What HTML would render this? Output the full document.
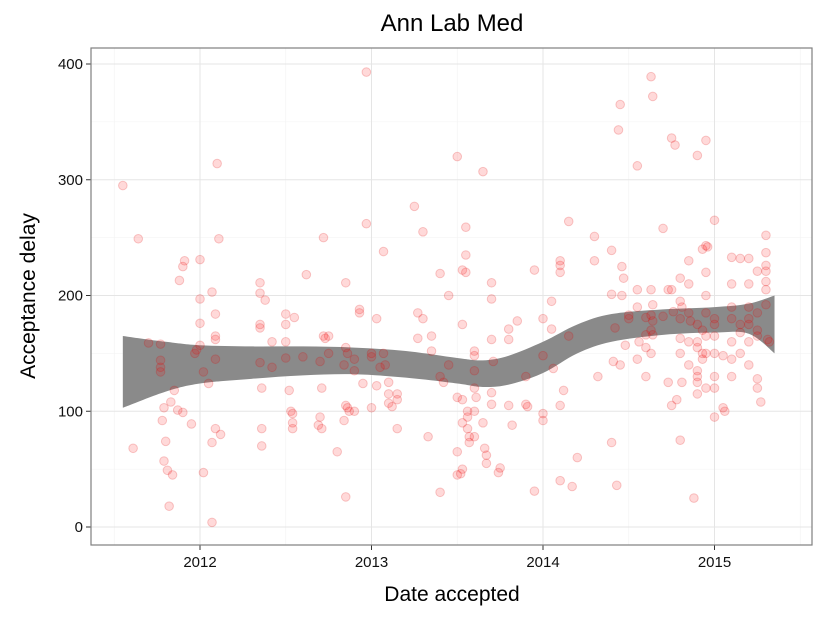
<!DOCTYPE html>
<html><head><meta charset="utf-8"><style>
body{margin:0;background:#fff}
svg{display:block;font-family:"Liberation Sans",sans-serif}
</style></head><body>
<svg id="c" width="825" height="618" xmlns="http://www.w3.org/2000/svg"></svg>
<script>
const xTicks=[2012,2013,2014,2015];
const yTicks=[0,100,200,300,400];
const bandYears=[2011.55,2011.8,2012.0,2012.3,2012.6,2012.9,2013.2,2013.5,2013.65,2013.8,2014.0,2014.2,2014.4,2014.7,2015.0,2015.2,2015.35];
const bandUpper=[165,160,157,156,156,155,152,146,144,148,160,175,184,188,190,193,200];
const bandLower=[103,117,124,128,131,132,129,124,121,123,133,150,160,166,168,167,150];
const dates=[2011.55,2011.64,2011.61,2011.70,2011.77,2011.77,2011.77,2011.77,2011.78,2011.79,2011.80,2011.79,2011.81,2011.82,2011.84,2011.83,2011.85,2011.87,2011.88,2011.90,2011.91,2011.90,2011.95,2011.97,2011.98,2012.0,2012.0,2012.0,2012.0,2012.02,2012.02,2012.05,2012.07,2012.07,2012.09,2012.09,2012.09,2012.09,2012.09,2012.10,2012.11,2012.12,2012.07,
2012.35,2012.35,2012.35,2012.35,2012.35,2012.36,2012.36,2012.36,2012.38,2012.5,2012.5,2012.5,2012.5,2012.52,2012.53,2012.54,2012.54,2012.54,2012.42,2012.42,2012.55,2012.6,2012.62,2012.7,2012.71,2012.7,2012.69,2012.71,2012.72,2012.72,2012.73,2012.75,2012.75,2012.8,2012.85,2012.85,2012.86,2012.84,2012.85,2012.86,2012.87,2012.84,2012.85,2012.9,2012.9,2012.9,2012.93,2012.93,2012.95,2012.97,2012.97,2013.0,2013.0,2013.0,2013.03,2013.03,2013.05,2013.07,2013.07,2013.08,2013.1,2013.1,2013.1,2013.12,2013.15,2013.15,2013.15,
2013.25,2013.27,2013.27,2013.3,2013.3,2013.33,2013.35,2013.35,2013.4,2013.4,2013.4,2013.42,2013.45,2013.45,2013.5,2013.5,2013.5,2013.5,2013.53,2013.53,2013.53,2013.53,2013.53,2013.52,2013.55,2013.55,2013.55,2013.56,2013.56,2013.56,2013.57,2013.57,2013.6,2013.6,2013.6,2013.6,2013.61,2013.6,2013.6,2013.65,2013.65,2013.66,2013.67,2013.67,2013.7,2013.7,2013.7,2013.71,2013.7,2013.7,2013.75,2013.74,2013.8,2013.8,2013.8,2013.82,2013.85,2013.9,2013.9,2013.91,2013.95,2013.95,2014.0,2014.0,2014.0,2014.0,2014.05,2014.05,2014.06,
2014.1,2014.1,2014.1,2014.1,2014.12,2014.1,2014.15,2014.15,2014.17,2014.2,2014.3,2014.3,2014.32,2014.4,2014.4,2014.42,2014.41,2014.4,2014.43,2014.45,2014.44,2014.46,2014.47,2014.46,2014.48,2014.45,2014.5,2014.5,2014.55,2014.55,2014.55,2014.56,2014.55,2014.6,2014.6,2014.6,2014.6,2014.63,2014.64,2014.63,2014.64,2014.63,2014.64,2014.63,2014.64,2014.63,2014.7,2014.7,2014.73,2014.73,2014.75,2014.77,2014.75,2014.76,2014.78,2014.75,2014.8,2014.8,2014.81,2014.8,2014.8,2014.8,2014.81,2014.8,2014.85,2014.85,2014.85,2014.86,2014.85,2014.85,
2014.9,2014.9,2014.9,2014.9,2014.9,2014.9,2014.9,2014.9,2014.88,2014.93,2014.93,2014.93,2014.93,2014.95,2014.95,2014.96,2014.95,2014.95,2014.95,2014.95,2014.95,2014.95,2015.0,2015.0,2015.0,2015.0,2015.0,2015.0,2015.0,2015.0,2015.05,2015.05,2015.06,2015.1,2015.1,2015.1,2015.1,2015.1,2015.1,2015.1,2015.15,2015.15,2015.15,2015.15,2015.2,2015.2,2015.2,2015.2,2015.2,2015.2,2015.2,2015.25,2015.25,2015.25,2015.25,2015.25,2015.25,2015.27,2015.3,2015.3,2015.3,2015.3,2015.3,2015.3,2015.3,2015.31,2015.32];
const delays=[295,249,68,159,158,144,138,134,92,103,74,57,49,18,45,108,118,101,213,225,230,99,89,150,153,231,197,176,157,47,134,124,203,73,184,165,162,145,85,314,249,80,4,
211,202,175,172,142,120,85,70,196,184,175,160,146,118,100,98,90,85,160,138,181,147,218,143,120,95,88,85,250,165,163,165,150,65,211,155,150,140,105,103,100,92,26,145,135,100,188,185,124,393,262,150,147,103,180,122,138,238,150,140,125,115,107,104,115,110,85,
277,185,163,255,180,78,165,152,219,30,130,125,200,140,320,112,65,45,222,175,110,90,50,46,259,235,220,100,95,85,78,73,152,148,135,120,112,100,78,307,90,68,62,55,211,197,162,143,116,106,51,47,171,162,105,88,178,130,106,104,222,31,180,148,98,92,195,171,137,
220,226,230,40,118,105,264,165,35,60,251,230,130,239,201,172,143,73,36,365,343,225,215,200,157,140,183,180,312,205,190,160,145,181,166,155,130,389,372,205,192,183,178,170,166,150,258,182,205,125,336,330,205,186,110,105,215,195,190,180,163,150,125,75,230,210,185,178,160,140,
321,175,160,155,135,130,125,115,25,240,170,150,145,334,243,242,220,200,185,165,150,120,265,180,175,165,150,130,120,95,148,103,100,233,210,190,180,160,145,130,232,175,168,150,232,210,190,180,175,160,140,221,185,170,165,128,120,108,252,237,226,221,212,205,192,162,160];

const NS='http://www.w3.org/2000/svg';
const svg=document.getElementById('c');
const L=91,R=812,T=48,B=545;
const sx=v=>200+(v-2012)*171.5;
const sy=v=>527-v*1.1575;
function el(tag,attrs,parent){const e=document.createElementNS(NS,tag);for(const k in attrs)e.setAttribute(k,attrs[k]);(parent||svg).appendChild(e);return e;}

const panel=el('rect',{x:L,y:T,width:R-L,height:B-T,fill:'#fff'});


for(let v=50;v<=350;v+=100){const g=el('line',{x1:L,x2:R,y1:sy(v),y2:sy(v),stroke:'#f2f2f2','stroke-width':0.6});

}
for(let v=2011.5;v<=2015.5;v+=1){const g=el('line',{x1:sx(v),x2:sx(v),y1:T,y2:B,stroke:'#f2f2f2','stroke-width':0.6});

}
yTicks.forEach(v=>{const g=el('line',{x1:L,x2:R,y1:sy(v),y2:sy(v),stroke:'#e5e5e5','stroke-width':1});


const tk=el('line',{x1:L-5,x2:L,y1:sy(v),y2:sy(v),stroke:'#333','stroke-width':1});


const t=el('text',{x:L-8,y:sy(v)+5,'text-anchor':'end','font-size':15,fill:'#111'});t.textContent=v;

});
xTicks.forEach(v=>{const g=el('line',{x1:sx(v),x2:sx(v),y1:T,y2:B,stroke:'#e5e5e5','stroke-width':1});


const tk=el('line',{x1:sx(v),x2:sx(v),y1:B,y2:B+5,stroke:'#333','stroke-width':1});


const t=el('text',{x:sx(v),y:B+22,'text-anchor':'middle','font-size':15,fill:'#111'});t.textContent=v;

});

function curve(xs,ys){const p=xs.map((x,i)=>[sx(x),sy(ys[i])]);let d='';
for(let i=0;i<p.length-1;i++){const p0=p[i-1]||p[i],p1=p[i],p2=p[i+1],p3=p[i+2]||p2;
const c1=[p1[0]+(p2[0]-p0[0])/6,p1[1]+(p2[1]-p0[1])/6],c2=[p2[0]-(p3[0]-p1[0])/6,p2[1]-(p3[1]-p1[1])/6];
d+=` C${c1[0]},${c1[1]} ${c2[0]},${c2[1]} ${p2[0]},${p2[1]}`;}return {start:p[0],d};}
const up=curve(bandYears,bandUpper);
const loR=curve(bandYears.slice().reverse(),bandLower.slice().reverse());
const band=el('path',{d:`M${up.start[0]},${up.start[1]}${up.d} L${loR.start[0]},${loR.start[1]}${loR.d} Z`,fill:'#8a8a8a'});



dates.forEach((d,i)=>{const c=el('circle',{cx:sx(d),cy:sy(delays[i]),r:4.3,fill:'rgba(255,0,0,0.15)',stroke:'rgba(220,0,0,0.2)','stroke-width':1});

});

const border=el('rect',{x:L,y:T,width:R-L,height:B-T,fill:'none',stroke:'#7f7f7f','stroke-width':1.2});



const title=el('text',{x:452,y:31,'text-anchor':'middle','font-size':24,fill:'#000'});title.textContent='Ann Lab Med';


const xt=el('text',{x:452,y:601,'text-anchor':'middle','font-size':21,fill:'#000'});xt.textContent='Date accepted';


const yt=el('text',{x:0,y:0,'text-anchor':'middle','font-size':21,fill:'#000',transform:'translate(35,296) rotate(-90)'});yt.textContent='Acceptance delay';


</script>
</body></html>
